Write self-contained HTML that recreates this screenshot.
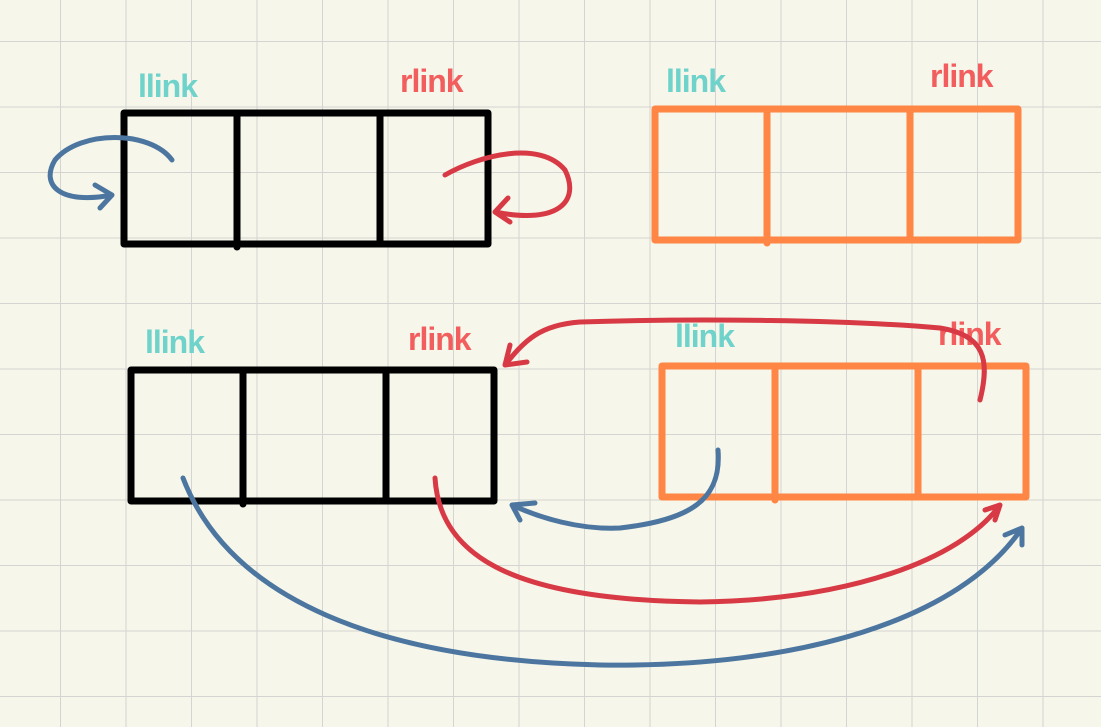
<!DOCTYPE html>
<html><head><meta charset="utf-8"><style>
html,body{margin:0;padding:0;background:#f6f6ea;}
svg{display:block}
text{font-family:"Liberation Sans",sans-serif;font-size:32px;font-weight:bold;letter-spacing:-1px}
</style></head><body>
<svg width="1101" height="727" viewBox="0 0 1101 727" xmlns="http://www.w3.org/2000/svg">
<defs>
<pattern id="g" x="-4.5" y="-23.5" width="65.5" height="65.5" patternUnits="userSpaceOnUse">
<path d="M65.5 0V65.5M0 65.5H65.5" stroke="#d4d4d2" stroke-width="2" fill="none"/>
</pattern>
</defs>
<rect width="1101" height="727" fill="#f6f6ea"/>
<rect width="1101" height="727" fill="url(#g)"/>
<g fill="none" stroke-linejoin="round" stroke-linecap="round" stroke-width="7">
<g stroke="#000">
<rect x="124" y="113" width="364" height="131"/><path d="M237 113V247M380 113V244"/>
<rect x="131" y="370" width="363" height="131"/><path d="M243 370V504M386 370V501"/>
</g>
<g stroke="#ff8644">
<rect x="655" y="109" width="363" height="131"/><path d="M767 109V243M910 109V240"/>
<rect x="662" y="366" width="364" height="131"/><path d="M775 366V500M918 366V497"/>
</g>
</g>
<g fill="#6fd3cb">
<text x="138" y="97">llink</text><text x="666" y="92">llink</text>
<text x="145" y="353">llink</text><text x="675" y="347">llink</text>
</g>
<g fill="#f25e5e">
<text x="400" y="92">rlink</text><text x="930" y="87">rlink</text>
<text x="408" y="350">rlink</text><text x="938" y="345">rlink</text>
</g>
<g fill="none" stroke-linecap="round" stroke-linejoin="round" stroke-width="5">
<g stroke="#4c76a0">
<path d="M172 160C150 130 80 130 55 160C40 185 60 205 112 195M95 185L112 195L100 208"/>
<path d="M718 450C722 500 690 520 620 528C580 530 540 518 512 505M512 505L535 503M512 505L520 520"/>
<path d="M183 478C230 600 380 660 600 665C800 668 960 620 1022 528M1022 528L1005 535M1022 528L1022 545"/>
</g>
<g stroke="#d83a45">
<path d="M445 175C480 155 540 140 565 170C580 200 560 225 495 212M495 212L508 198M495 212L510 222"/>
<path d="M980 400C990 360 985 335 940 328C850 320 700 318 580 322C540 325 525 340 505 365M505 365L527 362M505 365L510 345"/>
<path d="M435 478C440 560 520 600 700 602C850 600 960 560 1000 505M1000 505L985 510M1000 505L995 520"/>
</g>
</g>
</svg>
</body></html>
